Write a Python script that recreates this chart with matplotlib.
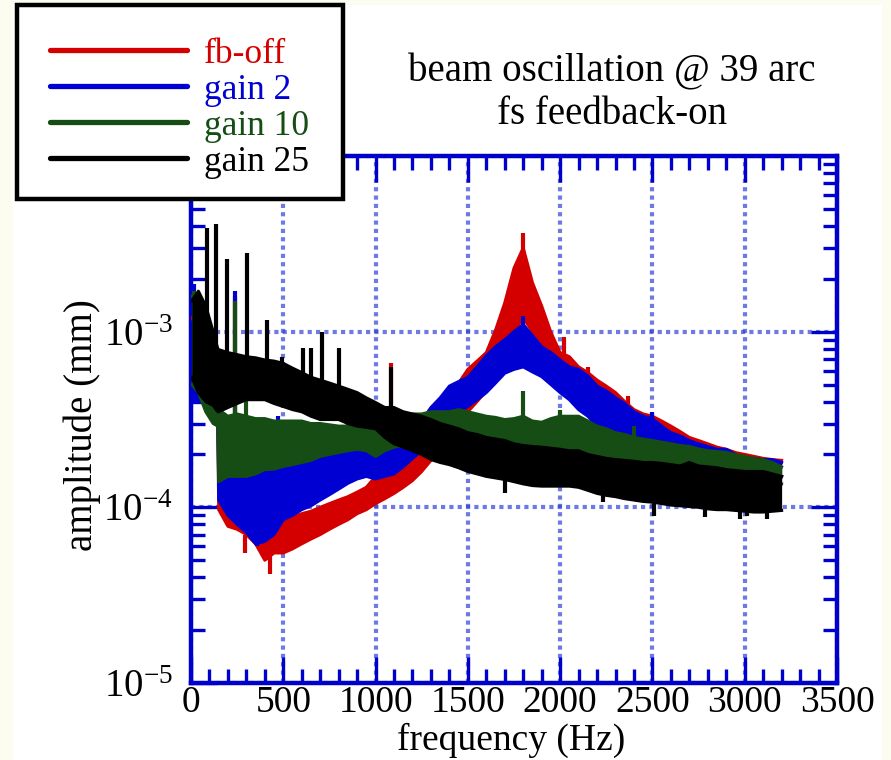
import numpy as np
import matplotlib
matplotlib.use("Agg")
import matplotlib.pyplot as plt
from matplotlib.patches import Rectangle
from matplotlib.lines import Line2D
from matplotlib.ticker import MultipleLocator, LogLocator, NullFormatter

# 频率 (Hz): 低频段 + 主段, 幅度单位 1e-4 mm
freq_low = [5, 40, 80, 120, 145]
freq_main = list(range(150, 3201, 50))

# fb-off
red_hi = [12, 10, 8, 6, 5,
          1.40, 1.20, 1.10, 1.00, 0.92, 0.85, 0.85, 0.85, 0.88, 0.92,
          0.95, 1.00, 1.05, 1.10, 1.15, 1.22, 1.30, 1.50, 1.70, 1.90,
          2.10, 2.40, 2.90, 3.30, 4.00, 4.50, 5.10, 6.10, 6.80, 7.60,
          10.2, 14.6, 23.0, 30.0, 19.0, 14.0, 9.9, 7.6, 7.2, 6.3,
          5.85, 5.30, 4.90, 4.50, 4.00, 3.60, 3.40, 3.30, 3.10, 2.90,
          2.70, 2.50, 2.40, 2.30, 2.20, 2.14, 2.05, 2.00, 1.95, 1.90,
          1.87, 1.85]
red_lo = [5, 4.5, 4, 3.8, 3.5,
          0.97, 0.78, 0.75, 0.70, 0.62, 0.50, 0.55, 0.55, 0.58, 0.62,
          0.66, 0.70, 0.75, 0.80, 0.85, 0.92, 0.97, 1.05, 1.12, 1.20,
          1.30, 1.42, 1.60, 1.85, 2.20, 2.60, 3.00, 3.50, 4.00, 4.60,
          5.80, 7.50, 10.0, 12.0, 10.0, 8.00, 6.50, 5.20, 4.60, 4.20,
          3.80, 3.50, 3.20, 2.90, 2.70, 2.50, 2.35, 2.20, 2.10, 2.00,
          1.95, 1.90, 1.85, 1.80, 1.75, 1.70, 1.65, 1.60, 1.60, 1.55,
          1.55, 1.50]

# gain 2
blue_hi = [18, 12, 9, 7, 6,
           1.64, 1.80, 1.75, 1.70, 1.70, 1.70, 1.72, 1.75, 1.80, 1.87,
           1.90, 1.95, 2.00, 2.10, 2.15, 2.20, 2.30, 2.34, 2.30, 2.30,
           2.50, 2.70, 3.10, 3.70, 4.20, 4.90, 5.20, 5.50, 6.30, 7.30,
           8.20, 9.00, 10.0, 11.0, 9.50, 8.20, 7.60, 6.90, 6.30, 6.10,
           5.60, 4.90, 4.60, 4.20, 3.90, 3.50, 3.30, 3.20, 2.90, 2.66,
           2.55, 2.40, 2.30, 2.22, 2.14, 2.14, 2.00, 1.87, 1.90, 1.87,
           1.87, 1.80]
blue_lo = [4, 4, 3.9, 3.9, 3.9,
           1.10, 0.90, 0.80, 0.72, 0.62, 0.64, 0.70, 0.85, 0.90, 0.97,
           1.02, 1.10, 1.18, 1.27, 1.37, 1.45, 1.50, 1.45, 1.50, 1.55,
           1.70, 1.90, 2.10, 2.30, 2.70, 3.30, 3.50, 3.75, 4.10, 4.50,
           5.10, 5.80, 6.10, 6.30, 5.90, 5.55, 5.00, 4.50, 4.10, 3.60,
           3.30, 2.90, 2.70, 2.40, 2.30, 2.20, 2.10, 2.05, 2.00, 1.95,
           1.90, 1.87, 1.80, 1.80, 1.75, 1.71, 1.68, 1.65, 1.62, 1.58,
           1.55, 1.50]

# gain 10
green_hi = [16, 12, 7, 5, 4.5,
            3.60, 3.30, 3.40, 3.30, 3.20, 3.20, 3.10, 3.10, 3.10, 3.10,
            3.00, 3.00, 2.95, 2.90, 2.90, 2.90, 2.85, 2.80, 3.00, 3.30,
            3.30, 3.40, 3.40, 3.50, 3.50, 3.50, 3.60, 3.50, 3.40, 3.30,
            3.25, 3.16, 3.20, 3.30, 3.10, 3.05, 3.20, 3.30, 3.30, 3.30,
            3.10, 2.90, 2.80, 2.66, 2.60, 2.50, 2.45, 2.40, 2.35, 2.30,
            2.25, 2.22, 2.15, 2.10, 2.08, 2.05, 2.00, 1.95, 1.90, 1.87,
            1.80, 1.70]
green_lo = [5, 4.5, 3.5, 3, 2.9,
            1.40, 1.50, 1.50, 1.50, 1.55, 1.64, 1.65, 1.71, 1.75, 1.80,
            1.85, 1.95, 2.00, 2.05, 2.10, 2.14, 2.10, 1.95, 2.10, 2.20,
            2.25, 2.30, 2.40, 2.50, 2.50, 2.45, 2.45, 2.40, 2.35, 2.30,
            2.25, 2.22, 2.20, 2.20, 2.15, 2.14, 2.10, 2.05, 2.05, 2.05,
            1.98, 1.90, 1.85, 1.80, 1.78, 1.75, 1.72, 1.68, 1.65, 1.62,
            1.60, 1.58, 1.55, 1.52, 1.50, 1.46, 1.44, 1.42, 1.40, 1.39,
            1.38, 1.36]

# gain 25
black_hi = [15, 17, 14, 10, 8,
            7.90, 7.60, 7.40, 7.20, 7.10, 6.90, 6.80, 6.60, 6.20, 5.85,
            5.50, 5.30, 5.10, 4.90, 4.70, 4.50, 4.20, 3.95, 3.70, 3.70,
            3.50, 3.40, 3.30, 3.16, 3.00, 2.90, 2.80, 2.66, 2.60, 2.50,
            2.45, 2.40, 2.30, 2.25, 2.22, 2.20, 2.17, 2.14, 2.10, 2.10,
            2.00, 1.95, 1.90, 1.87, 1.85, 1.83, 1.80, 1.80, 1.78, 1.75,
            1.72, 1.80, 1.72, 1.70, 1.68, 1.64, 1.62, 1.60, 1.60, 1.60,
            1.55, 1.50]
black_lo = [5.5, 4.5, 4, 3.8, 3.5,
            3.50, 3.70, 3.90, 4.10, 4.10, 4.10, 3.90, 3.75, 3.60, 3.50,
            3.30, 3.16, 3.16, 3.16, 3.00, 2.90, 2.85, 2.80, 2.50, 2.30,
            2.20, 2.10, 2.00, 1.87, 1.80, 1.75, 1.68, 1.60, 1.55, 1.50,
            1.47, 1.44, 1.40, 1.36, 1.33, 1.32, 1.32, 1.32, 1.32, 1.30,
            1.25, 1.20, 1.17, 1.15, 1.12, 1.10, 1.08, 1.07, 1.05, 1.03,
            1.02, 1.01, 1.00, 0.98, 0.97, 0.97, 0.96, 0.95, 0.94, 0.94,
            0.95, 0.96]

# 尖峰 (频率, 起点, 终点)
red_spk_f = [241, 430, 290, 1085, 1800, 2020, 2150, 2370]
red_spk_lo = [1.0, 0.55, 0.70, 1.5, 25, 6, 5, 3.5]
red_spk_hi = [16, 0.42, 0.55, 6.6, 36.6, 9.3, 6.3, 4.3]

blue_spk_f = [15, 241, 260, 358, 390, 470, 640, 720, 850, 1800, 2500]
blue_spk_lo = [5, 1.5, 1.7, 0.70, 1.7, 1.7, 1.9, 1.9, 2.1, 10, 2.5]
blue_spk_hi = [18.6, 17, 3.0, 0.60, 2.8, 3.3, 3.0, 2.9, 3.0, 12.2, 3.5]

green_spk_f = [15, 241, 300, 1800, 2000, 2400]
green_spk_lo = [5, 3, 3, 3, 2.6, 2.2]
green_spk_hi = [17, 15, 4.7, 4.6, 3.6, 2.9]

black_spk_f = [88, 133, 196, 304, 412, 493, 608, 651, 711, 802, 1085,
               1700, 2230, 2508, 2785, 2975, 3010, 3120]
black_spk_lo = [6, 6, 6, 6, 6, 6, 5.5, 5.2, 5, 4.8, 3.5,
                1.5, 1.3, 1.2, 1.1, 1.1, 1.1, 1.1]
black_spk_hi = [39, 41, 26, 28, 11.7, 7.2, 8.1, 8.1, 10, 8.1, 6.3,
                1.2, 1.07, 0.89, 0.88, 0.86, 0.89, 0.86]

labels = ["fb-off", "gain 2", "gain 10", "gain 25"]
colors = ["#d40000", "#0000d2", "#154d15", "#000000"]

plt.rcParams['font.family'] = ['Liberation Serif', 'DejaVu Serif']
plt.rcParams['mathtext.fontset'] = 'custom'
plt.rcParams['mathtext.rm'] = 'Liberation Serif'
plt.rcParams['mathtext.default'] = 'regular'

axis_blue = "#0000cc"
W, H = 891, 760

fig = plt.figure(figsize=(8.91, 7.60), dpi=100, facecolor="#fdfcf0")
fig.patches.append(Rectangle((13 / W, 0), (882 - 13) / W, 1 - 5 / H,
                             transform=fig.transFigure, facecolor="white",
                             edgecolor="none", zorder=-10))

ax = fig.add_axes([191 / W, 1 - 683 / H, (837 - 191) / W, (683 - 156) / H])
ax.set_facecolor("white")

freq = np.array(freq_low + freq_main, dtype=float)
series = [
    (red_hi, red_lo, red_spk_f, red_spk_lo, red_spk_hi),
    (blue_hi, blue_lo, blue_spk_f, blue_spk_lo, blue_spk_hi),
    (green_hi, green_lo, green_spk_f, green_spk_lo, green_spk_hi),
    (black_hi, black_lo, black_spk_f, black_spk_lo, black_spk_hi),
]
for (hi, lo, sf, slo, shi), c in zip(series, colors):
    hi = np.array(hi) * 1e-4
    lo = np.array(lo) * 1e-4
    ax.fill_between(freq, lo, hi, color=c, lw=0, zorder=3)
    ax.plot(freq, hi, color=c, lw=2.2, zorder=3)
    ax.plot(freq, lo, color=c, lw=2.2, zorder=3)
    ax.vlines(sf, np.array(slo) * 1e-4, np.array(shi) * 1e-4, color=c, lw=3, zorder=3)

ax.set_yscale("log")
ax.set_xlim(0, 3500)
ax.set_ylim(1e-5, 1e-2)

ax.xaxis.set_major_locator(MultipleLocator(500))
ax.xaxis.set_minor_locator(MultipleLocator(100))
ax.yaxis.set_major_locator(LogLocator(base=10, numticks=10))
ax.yaxis.set_minor_locator(LogLocator(base=10, subs=np.arange(2, 10), numticks=20))
ax.yaxis.set_minor_formatter(NullFormatter())

ax.grid(True, which="major", color="#3040d8", linestyle=(0, (1.0, 1.0)), lw=3, alpha=0.7, zorder=1)
ax.set_axisbelow(True)

for sp in ax.spines.values():
    sp.set_color(axis_blue)
    sp.set_linewidth(3.2)
ax.tick_params(which="both", direction="in", top=True, right=True, color=axis_blue,
               labelsize=27, pad=2)
ax.tick_params(which="major", length=19, width=2.4)
ax.tick_params(which="minor", length=10, width=2.4)
ax.tick_params(axis="y", which="major", pad=13, labelsize=28)

ax.set_xlabel("frequency (Hz)", fontsize=27)
ax.set_ylabel("amplitude (mm)", fontsize=28)
ax.xaxis.label.set_verticalalignment("baseline")
ax.xaxis.set_label_coords(0.495, -0.127)
ax.yaxis.set_label_coords(-0.14, 0.49)

fig.text(612 / W, 1 - 72 / H, "beam oscillation @ 39 arc", fontsize=28,
         ha="center", va="center")
fig.text(612 / W, 1 - 114 / H, "fs feedback-on", fontsize=28,
         ha="center", va="center")

# 图例 (手工绘制)
fig.patches.append(Rectangle((17 / W, 1 - 199 / H), (343 - 17) / W, (199 - 5) / H,
                             transform=fig.transFigure, facecolor="white",
                             edgecolor="black", lw=3.2, zorder=20))
leg_line_y = [50, 86, 122, 158]
for lab, c, yy in zip(labels, colors, leg_line_y):
    fig.add_artist(Line2D([50 / W, 187 / W], [1 - yy / H, 1 - yy / H],
                          transform=fig.transFigure, color=c, lw=3.8,
                          solid_capstyle="round", zorder=21))
    fig.text(204 / W, 1 - (yy + 13) / H, lab, color=c, fontsize=25.5,
             ha="left", va="baseline", zorder=21)

fig.savefig("out.png", dpi=100, facecolor=fig.get_facecolor())
